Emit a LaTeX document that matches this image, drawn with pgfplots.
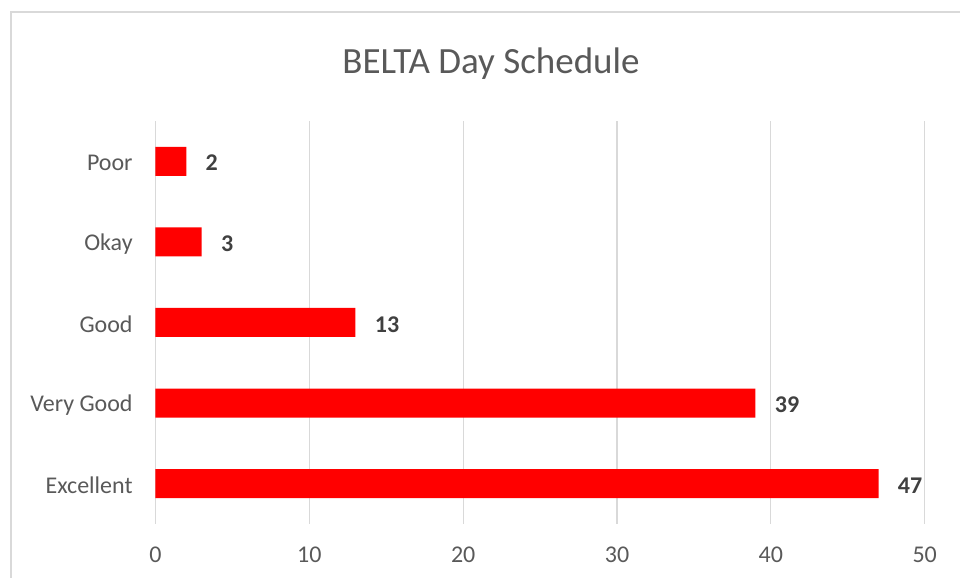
\documentclass[border=0pt]{standalone}
\usepackage{pgfplots}
\pgfplotsset{compat=1.18}
\usepackage{fontspec}
\setmainfont{Carlito}
\definecolor{gridc}{HTML}{D9D9D9}
\definecolor{txt}{HTML}{595959}
\definecolor{lbl}{HTML}{404040}
\definecolor{barred}{HTML}{FF0000}
\begin{document}
\begin{tikzpicture}
\useasboundingbox (0,0) rectangle (480pt,289pt);
\draw[gridc, line width=0.75pt] (5.5pt,-5pt) rectangle (486pt,283pt);
\begin{axis}[
  at={(77.75pt,27pt)}, anchor=south west,
  width=384.6pt, height=201.5pt, scale only axis,
  xbar, xmin=0, xmax=50, ymin=-0.5, ymax=4.5,
  bar width=14.5pt,
  axis line style={draw=none},
  major tick length=0pt,
  xmajorgrids, ymajorgrids=false,
  grid style={gridc, line width=0.6pt},
  ytick={0,1,2,3,4},
  yticklabels={Excellent,Very Good,Good,Okay,Poor},
  xtick={0,10,20,30,40,50},
  /pgf/number format/assume math mode=true,
  tick label style={font=\fontsize{12}{14}\selectfont, text=txt},
  yticklabel style={anchor=east, inner sep=0pt, xshift=-11.25pt, yshift=-0.9pt},
  xticklabel style={anchor=north, inner sep=0pt, yshift=-11.25pt},
  nodes near coords,
  nodes near coords style={font=\fontsize{12}{14}\selectfont\bfseries, text=lbl, anchor=west, inner sep=0pt, xshift=9.5pt, yshift=-0.9pt},
]
\addplot[fill=barred, draw=none] coordinates {(47,0) (39,1) (13,2) (3,3) (2,4)};
\end{axis}
\node[text=txt, font=\fontsize{18.5}{22}\selectfont] at (245.5pt,257pt) {BELTA Day Schedule};
\end{tikzpicture}
\end{document}
